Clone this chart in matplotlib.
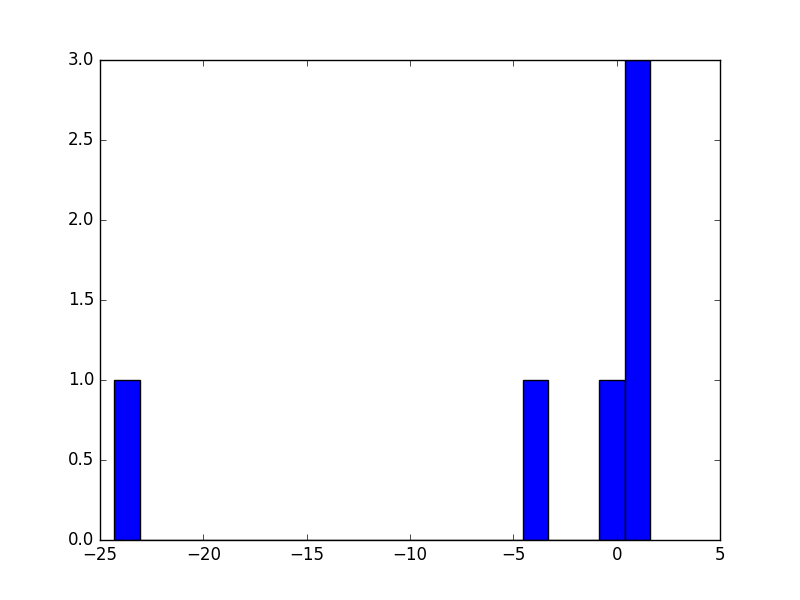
import matplotlib
matplotlib.use("Agg")
import matplotlib.pyplot as plt

values = [-24.32, -4.0, -0.3, 0.8, 1.2, 1.63]
n_bins = 21

plt.style.use("classic")
fig, ax = plt.subplots(figsize=(8, 6), dpi=100)
ax.hist(values, bins=n_bins, color="blue", edgecolor="black")
ax.set_xlim(-25, 5)
ax.set_ylim(0, 3)

fig.savefig("out.png", dpi=100, facecolor="white")
